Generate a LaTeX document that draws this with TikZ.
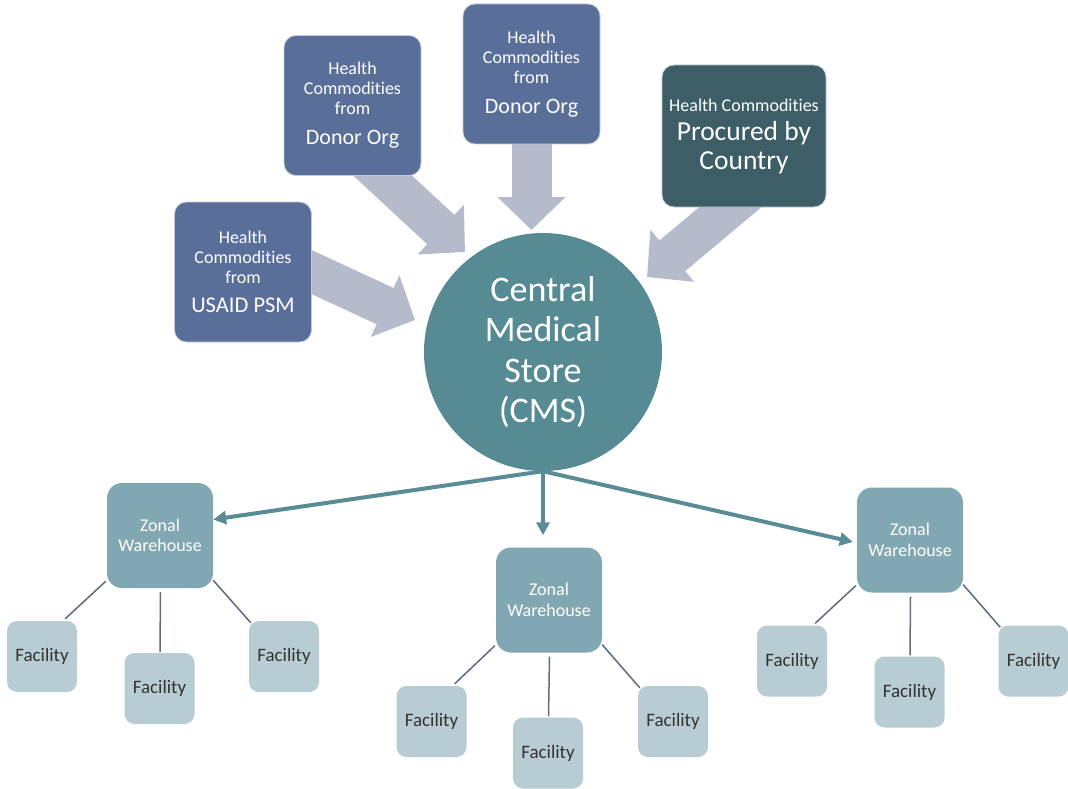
\documentclass[tikz,border=0pt]{standalone}
\usepackage{fontspec}
\setmainfont{Carlito}[Ligatures=NoCommon]
\usetikzlibrary{arrows.meta,calc,backgrounds}
\definecolor{boxblue}{HTML}{5A6E9A}
\definecolor{boxedge}{HTML}{C3CCDA}
\definecolor{boxdark}{HTML}{3D5E66}
\definecolor{cmscol}{HTML}{578B94}
\definecolor{zonecol}{HTML}{80A7B2}
\definecolor{faccol}{HTML}{B7CDD3}
\definecolor{factext}{HTML}{333333}
\definecolor{arrowcol}{HTML}{B5BBCB}
\definecolor{flowcol}{HTML}{5A8C96}
\definecolor{treecol}{HTML}{5E6B80}
\begin{document}
\begin{tikzpicture}[x=1pt,y=-1pt,
  topbox/.style={rectangle, rounded corners=12pt, fill=boxblue, draw=boxedge, line width=0.8pt,
    text=white, align=center, minimum width=137pt, minimum height=140pt, inner sep=0pt,
    font=\fontsize{18}{20}\selectfont},
  cmsnode/.style={circle, fill=cmscol, text=white, align=center, minimum size=238pt, inner sep=0pt,
    font=\fontsize{36}{40.5}\selectfont},
  zone/.style={rectangle, rounded corners=15pt, fill=zonecol, text=white, align=center,
    minimum width=106pt, minimum height=105pt, inner sep=0pt, font=\fontsize{18}{20.5}\selectfont},
  fac/.style={rectangle, rounded corners=10pt, fill=faccol, text=factext,
    minimum width=70pt, minimum height=71pt, inner sep=0pt, font=\fontsize{19}{22}\selectfont},
  bigarrow/.style={line width=40pt, draw=arrowcol, -{Triangle[length=33pt,width=66pt]}},
  flow/.style={line width=4pt, draw=flowcol, -{Triangle[length=13pt,width=13pt]}},
  treeline/.style={line width=1.5pt, draw=treecol}
]
\useasboundingbox (0,0) rectangle (1068,789);

% top boxes
\node[topbox] (usaid) at (243,272) {Health\\Commodities\\from\\[9pt]{\fontsize{22.5}{26}\selectfont USAID PSM}};
\node[topbox] (donor1) at (352.5,105.5) {Health\\Commodities\\from\\[10pt]{\fontsize{22}{26}\selectfont Donor Org}};
\node[topbox] (donor2) at (531.5,74) {Health\\Commodities\\from\\[10pt]{\fontsize{22}{26}\selectfont Donor Org}};
\node[topbox, fill=boxdark, minimum width=164pt, minimum height=142pt, font=\fontsize{27.5}{29}\selectfont] (country) at (744,136)
  {{\fontsize{18}{20}\selectfont Health Commodities}\\Procured by\\Country};

% central store
\node[cmsnode] (cms) at (543,352) {Central\\Medical\\Store\\(CMS)};

% tips of the wide arrows
\coordinate (tU) at (415,320);
\coordinate (tD1) at (465,252);
\coordinate (tD2) at (531.5,230);
\coordinate (tC) at (647,277);

\begin{scope}[on background layer]
\fill[white] (0,0) rectangle (1068,789);
\draw[bigarrow] ($(usaid.center)+(47,-10)$) -- (tU);
\draw[bigarrow] ($(donor1.center)+(2.5,44.5)$) -- (tD1);
\draw[bigarrow] ($(donor2.center)+(0,46)$) -- (tD2);
\draw[bigarrow] ($(country.center)+(8,53)$) -- (tC);
\end{scope}

% zonal warehouses
\node[zone] (zw1) at (160,535.5) {Zonal\\Warehouse};
\node[zone] (zw2) at (549,600) {Zonal\\Warehouse};
\node[zone] (zw3) at (910,540) {Zonal\\Warehouse};

% facilities
\node[fac] (f11) at (42,656.5) {Facility};
\node[fac] (f12) at (159.5,688.5) {Facility};
\node[fac] (f13) at (284,656.5) {Facility};
\node[fac] (f21) at (431.5,721.5) {Facility};
\node[fac] (f22) at (548,753) {Facility};
\node[fac] (f23) at (673,721.5) {Facility};
\node[fac] (f31) at (792,661) {Facility};
\node[fac] (f32) at (909.5,692) {Facility};
\node[fac] (f33) at (1033.5,661) {Facility};

% flows from CMS
\draw[flow] (cms.south) -- ($(zw1.east)+(0,-16)$);
\draw[flow] (cms.south) -- ($(zw2.north)+(-6,-12)$);
\draw[flow] (cms.south) -- ($(zw3.west)+(-4,2)$);

% tree lines
\foreach \z/\a/\b/\c in {zw1/f11/f12/f13, zw2/f21/f22/f23, zw3/f31/f32/f33}{
  \draw[treeline] ($(\z.south west)+(-1,-7)$) -- ($(\a.north east)+(-12,-2)$);
  \draw[treeline] ($(\z.south)+(0.5,4)$) -- ($(\b.north)+(0.5,-1)$);
  \draw[treeline] ($(\z.south east)+(0,-8)$) -- ($(\c.north west)+(2,2)$);
}
\end{tikzpicture}
\end{document}
